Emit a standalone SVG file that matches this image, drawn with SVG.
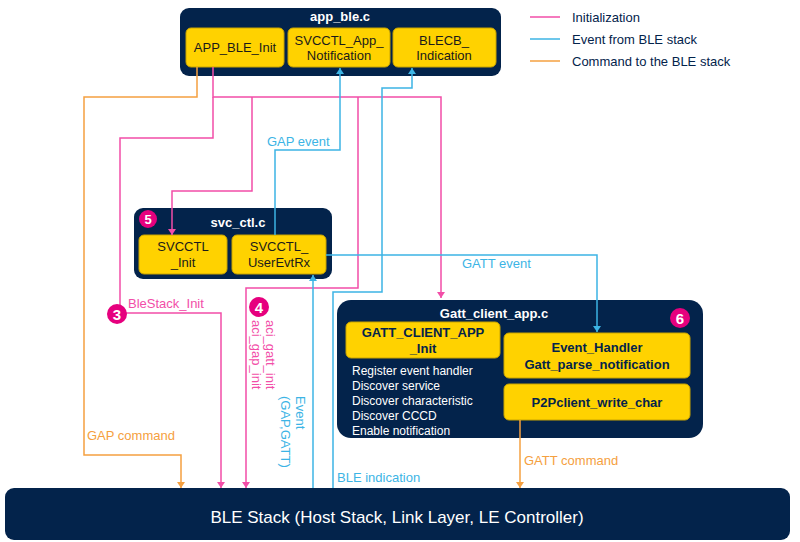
<svg xmlns="http://www.w3.org/2000/svg" width="800" height="542" viewBox="0 0 800 542">
<defs>
<style>
.nv{fill:#03234b}
.yb{fill:#ffd200;stroke:#c9a400;stroke-width:1}
.t{font-family:"Liberation Sans",Arial,sans-serif;font-size:13px;fill:#1a1a1a;text-anchor:middle}
.tb{font-family:"Liberation Sans",Arial,sans-serif;font-size:13px;font-weight:bold;fill:#03234b;text-anchor:middle}
.tt{font-family:"Liberation Sans",Arial,sans-serif;font-size:13px;font-weight:bold;fill:#fff;text-anchor:middle}
.w{font-family:"Liberation Sans",Arial,sans-serif;font-size:12px;fill:#fff}
.lab{font-family:"Liberation Sans",Arial,sans-serif;font-size:13px}
.p{stroke:#f24ea8;fill:none;stroke-width:1.5}
.b{stroke:#3cb4e5;fill:none;stroke-width:1.5}
.o{stroke:#f5a040;fill:none;stroke-width:1.5}
.c{fill:#e6007e}
.ct{font-family:"Liberation Sans",Arial,sans-serif;font-size:13px;font-weight:bold;fill:#fff;text-anchor:middle}
</style>
<marker id="ap" markerWidth="8" markerHeight="8" refX="4" refY="6" orient="auto-start-reverse" markerUnits="userSpaceOnUse"><path d="M0,0 L8,0 L4,6z" fill="#f24ea8" transform="rotate(0)"/></marker>
<marker id="ab" markerWidth="8" markerHeight="8" refX="6" refY="4" orient="auto" markerUnits="userSpaceOnUse"><path d="M0,0 L6,4 L0,8z" fill="#3cb4e5"/></marker>
<marker id="ao" markerWidth="8" markerHeight="8" refX="6" refY="4" orient="auto" markerUnits="userSpaceOnUse"><path d="M0,0 L6,4 L0,8z" fill="#f5a040"/></marker>
<marker id="apk" markerWidth="8" markerHeight="8" refX="6" refY="4" orient="auto" markerUnits="userSpaceOnUse"><path d="M0,0 L6,4 L0,8z" fill="#f24ea8"/></marker>
</defs>

<g id="legend">
<line x1="530" y1="17" x2="560" y2="17" class="p"/><text x="572" y="22" class="lab" fill="#03234b">Initialization</text>
<line x1="530" y1="39" x2="560" y2="39" class="b"/><text x="572" y="44" class="lab" fill="#03234b">Event from BLE stack</text>
<line x1="530" y1="61" x2="560" y2="61" class="o"/><text x="572" y="66" class="lab" fill="#03234b">Command to the BLE stack</text>
</g>

<g id="app_ble">
<rect x="180" y="8" width="321" height="68" rx="9" class="nv"/>
<text x="340" y="21" class="tt">app_ble.c</text>
<rect x="186" y="28" width="98" height="39" rx="5" class="yb"/><text x="235" y="52" class="t">APP_BLE_Init</text>
<rect x="288" y="28" width="102" height="39" rx="5" class="yb"/><text x="339" y="45" class="t">SVCCTL_App_</text><text x="339" y="60" class="t">Notification</text>
<rect x="393" y="28" width="103" height="39" rx="5" class="yb"/><text x="444" y="45" class="t">BLECB_</text><text x="444" y="60" class="t">Indication</text>
</g>

<g id="svc_ctl">
<rect x="134" y="208" width="198" height="71" rx="9" class="nv"/>
<text x="238" y="227" class="tt">svc_ctl.c</text>
<circle cx="148" cy="219" r="9" class="c"/><text x="148" y="224" class="ct">5</text>
<rect x="139" y="235" width="88" height="39" rx="5" class="yb"/><text x="183" y="251" class="t">SVCCTL</text><text x="183" y="267" class="t">_Init</text>
<rect x="232" y="235" width="94" height="39" rx="5" class="yb"/><text x="279" y="251" class="t">SVCCTL_</text><text x="279" y="267" class="t">UserEvtRx</text>
</g>

<g id="gatt_client">
<rect x="337" y="300" width="366" height="138" rx="14" class="nv"/>
<text x="494" y="318" class="tt">Gatt_client_app.c</text>
<circle cx="680" cy="318" r="10" class="c"/><text x="680" y="324" class="ct" style="font-size:15px">6</text>
<rect x="346" y="322" width="154" height="36" rx="5" class="yb"/><text x="423" y="337" class="tb">GATT_CLIENT_APP</text><text x="423" y="353" class="tb">_Init</text>
<text x="352" y="375" class="w">Register event handler</text>
<text x="352" y="390" class="w">Discover service</text>
<text x="352" y="405" class="w">Discover characteristic</text>
<text x="352" y="420" class="w">Discover CCCD</text>
<text x="352" y="435" class="w">Enable notification</text>
<rect x="504" y="333" width="186" height="45" rx="5" class="yb"/><text x="597" y="352" class="tb">Event_Handler</text><text x="597" y="369" class="tb">Gatt_parse_notification</text>
<rect x="504" y="384" width="186" height="36" rx="5" class="yb"/><text x="597" y="407" class="tb">P2Pclient_write_char</text>
</g>

<g id="ble_stack">
<rect x="5" y="488" width="785" height="52" rx="9" class="nv"/>
<text x="397" y="523" style="font-family:'Liberation Sans',Arial,sans-serif;font-size:17px;fill:#fff;text-anchor:middle">BLE Stack (Host Stack, Link Layer, LE Controller)</text>
</g>

<g id="connectors">
<polyline points="197,67 197,97 84,97 84,455 181,455 181,488" class="o" marker-end="url(#ao)"/>
<text x="87" y="440" class="lab" fill="#f5a040">GAP command</text>
<polyline points="520,420 520,488" class="o" marker-end="url(#ao)"/>
<text x="524" y="465" class="lab" fill="#f5a040">GATT command</text>

<polyline points="213,67 213,97 441,97 441,298" class="p" marker-end="url(#apk)"/>
<polyline points="213,97 213,138 120,138 120,313 221,313 221,488" class="p" marker-end="url(#apk)"/>
<polyline points="252,97 252,191 172,191 172,235" class="p" marker-end="url(#apk)"/>
<polyline points="358,97 358,288 246,288 246,488" class="p" marker-end="url(#apk)"/>
<circle cx="117" cy="314" r="10" class="c"/><text x="117" y="320" class="ct" style="font-size:15px">3</text>
<text x="128" y="308" class="lab" fill="#f24ea8">BleStack_Init</text>
<circle cx="259" cy="307" r="10" class="c"/><text x="259" y="313" class="ct" style="font-size:15px">4</text>
<text transform="translate(266,320) rotate(90)" class="lab" fill="#f24ea8">aci_gatt_init</text>
<text transform="translate(252,320) rotate(90)" class="lab" fill="#f24ea8">aci_gap_init</text>

<polyline points="275,235 275,150 340,150 340,68" class="b" marker-end="url(#ab)"/>
<text x="267" y="146" class="lab" fill="#3cb4e5">GAP event</text>
<polyline points="333,488 333,292 382,292 382,88 412,88 412,68" class="b" marker-end="url(#ab)"/>
<text x="337" y="482" class="lab" fill="#3cb4e5">BLE indication</text>
<polyline points="326,255 597,255 597,332" class="b" marker-end="url(#ab)"/>
<text x="462" y="268" class="lab" fill="#3cb4e5">GATT event</text>
<polyline points="313,488 313,275" class="b" marker-end="url(#ab)"/>
<text transform="translate(296,396) rotate(90)" class="lab" fill="#3cb4e5">Event</text>
<text transform="translate(281,396) rotate(90)" class="lab" fill="#3cb4e5">(GAP,GATT)</text>
</g>
</svg>
